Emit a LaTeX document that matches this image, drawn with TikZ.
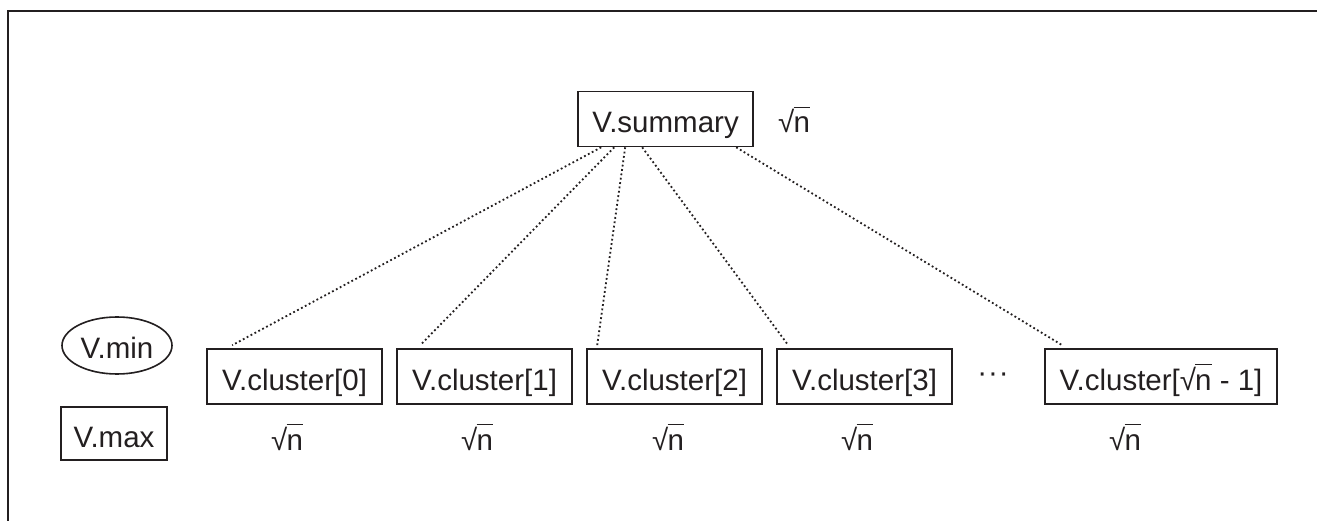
\documentclass[tikz,border=0pt]{standalone}
\usepackage{fontspec}
\setmainfont{Liberation Sans}
\usetikzlibrary{shapes.geometric}
\definecolor{ink}{RGB}{35,31,32}
\newcommand\sqn{\mbox{√\kern-0.03em\rlap{\rule[0.84em]{0.56em}{0.055em}}n}}
\begin{document}
\begin{tikzpicture}[x=1pt,y=-1pt,
  every node/.style={font=\fontsize{29.5}{31}\selectfont, text=ink},
  box/.style={draw=ink, line width=1.6pt, rectangle, inner sep=0pt, minimum height=55pt, minimum width=175pt, text height=27pt, text depth=0pt},
  oval/.style={draw=ink, line width=1.6pt, ellipse, inner sep=0pt, minimum width=110pt, minimum height=57pt, text height=25.4pt, text depth=0pt},
  link/.style={draw=ink, line width=1.8pt, dash pattern=on 1.8pt off 2.6pt},
  lbl/.style={anchor=base west, inner sep=0pt}]
\useasboundingbox (0,0) rectangle (1317,521);
\fill[white] (0,0) rectangle (1317,521);
% frame
\draw[ink, line width=2pt] (8,521) -- (8,11) -- (1317,11);
% nodes
\node[box] (sum) at (665.5,119) {V.summary};
\node[lbl] (ssum) at (778,133) {\sqn};
\node[oval] (vmin) at (117,345.5) {V.min};
\node[box, minimum width=106pt, minimum height=53pt] (vmax) at (114,433.5) {V.max};
\node[box] (c0) at (294.5,376.5) {V.cluster[0]};
\node[box] (c1) at (484.5,376.5) {V.cluster[1]};
\node[box] (c2) at (674.5,376.5) {V.cluster[2]};
\node[box] (c3) at (864.5,376.5) {V.cluster[3]};
\node[box, minimum width=232pt] (c4) at (1161,376.5) {V.cluster[\sqn\ - 1]};
\node[anchor=base, inner sep=0pt] (dots) at (993,382) {·\kern1pt·\kern1pt·};
\node[lbl] (s0) at (271,450) {\sqn};
\node[lbl] (s1) at (461,450) {\sqn};
\node[lbl] (s2) at (652,450) {\sqn};
\node[lbl] (s3) at (841,450) {\sqn};
\node[lbl] (s4) at (1109,450) {\sqn};
% links
\draw[link] ([xshift=24pt]sum.south west) -- ([xshift=26pt,yshift=3pt]c0.north west);
\draw[link] ([xshift=37pt]sum.south west) -- ([xshift=24pt,yshift=3pt]c1.north west);
\draw[link] ([xshift=48pt]sum.south west) -- ([xshift=11pt,yshift=3pt]c2.north west);
\draw[link] ([xshift=65pt]sum.south west) -- ([xshift=12pt,yshift=3pt]c3.north west);
\draw[link] ([xshift=159pt]sum.south west) -- ([xshift=18pt,yshift=3pt]c4.north west);
\end{tikzpicture}
\end{document}
